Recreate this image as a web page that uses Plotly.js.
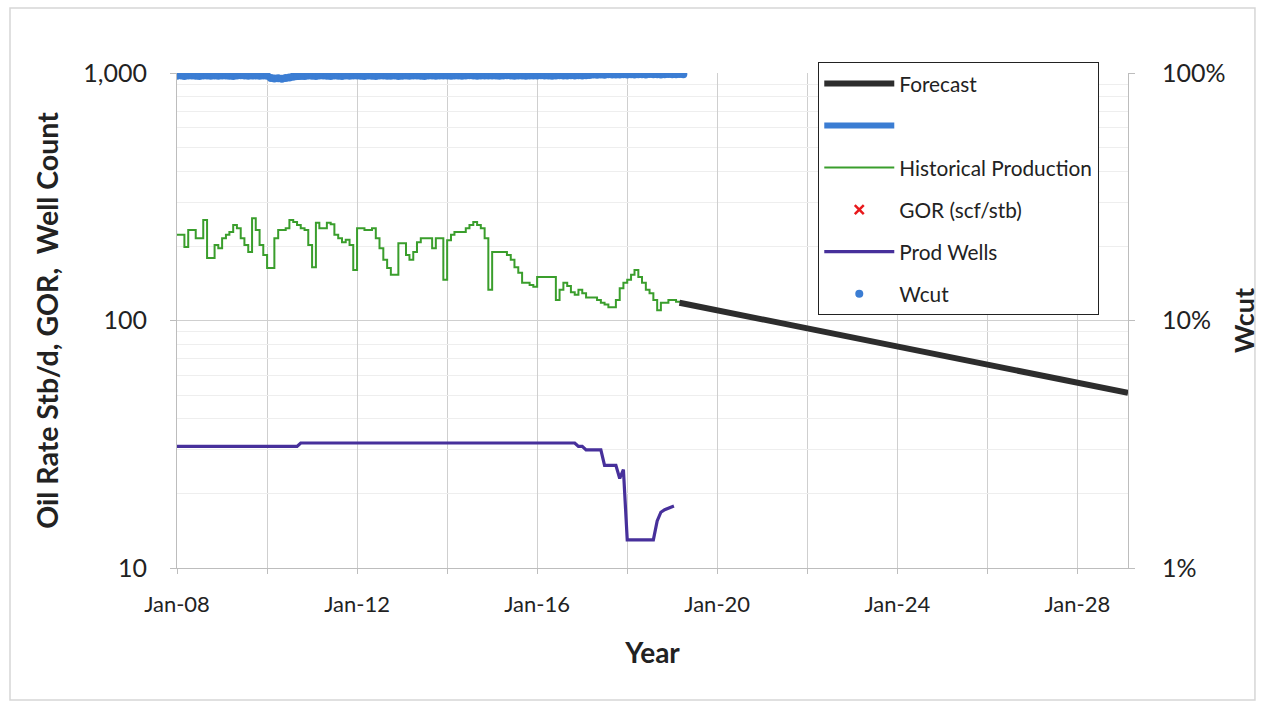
<!DOCTYPE html>
<html>
<head>
<meta charset="utf-8">
<script src="https://cdn.plot.ly/plotly-3.0.1.min.js"></script>
<style>
  html, body { margin: 0; padding: 0; background: #ffffff; }
  #chart { width: 1263px; height: 702px; }
</style>
</head>
<body>
<div id="chart"></div>
<script>
// ---------------- DATA ----------------
const histYears = [2008, 2009, 2010, 2011, 2012, 2013, 2014, 2015, 2016, 2017, 2018, 2019];
// Historical oil rate (stb/d), monthly, one array per year
const oilRateByYear = [
  [222, 222, 198, 232, 232, 215, 215, 255, 179, 179, 202, 196],
  [215, 222, 228, 243, 236, 215, 202, 189, 259, 232, 202, 184],
  [163, 163, 215, 232, 232, 236, 255, 250, 243, 236, 232, 202],
  [164, 248, 236, 236, 248, 245, 222, 215, 207, 212, 202, 160],
  [236, 236, 232, 232, 236, 215, 196, 176, 163, 153, 153, 205],
  [205, 184, 176, 189, 207, 215, 215, 215, 196, 215, 215, 146],
  [211, 222, 228, 228, 228, 236, 243, 250, 243, 236, 215, 133],
  [189, 189, 189, 189, 184, 176, 164, 156, 142, 142, 139, 137],
  [150, 150, 150, 150, 150, 121, 133, 142, 138, 130, 127, 133],
  [129, 124, 124, 124, 121, 118, 116, 113, 113, 121, 135, 142],
  [146, 153, 160, 150, 142, 133, 129, 121, 110, 118, 118, 121],
  [121, 119, 118]
];
// Water cut (fraction), monthly, one array per year
const wcutByYear = [
  [0.975, 0.978, 0.972, 0.976, 0.978, 0.975, 0.972, 0.976, 0.978, 0.975, 0.977, 0.974],
  [0.976, 0.978, 0.975, 0.973, 0.977, 0.979, 0.976, 0.974, 0.977, 0.978, 0.975, 0.976],
  [0.974, 0.955, 0.950, 0.952, 0.948, 0.955, 0.958, 0.968, 0.972, 0.975, 0.973, 0.976],
  [0.975, 0.972, 0.976, 0.978, 0.974, 0.973, 0.977, 0.975, 0.972, 0.976, 0.974, 0.977],
  [0.976, 0.974, 0.972, 0.977, 0.975, 0.973, 0.976, 0.978, 0.974, 0.975, 0.977, 0.973],
  [0.975, 0.977, 0.974, 0.976, 0.978, 0.975, 0.973, 0.977, 0.976, 0.974, 0.978, 0.976],
  [0.977, 0.975, 0.978, 0.976, 0.974, 0.977, 0.979, 0.976, 0.975, 0.978, 0.976, 0.977],
  [0.976, 0.978, 0.975, 0.977, 0.979, 0.976, 0.974, 0.978, 0.977, 0.975, 0.978, 0.976],
  [0.977, 0.979, 0.976, 0.978, 0.975, 0.977, 0.979, 0.976, 0.978, 0.980, 0.977, 0.979],
  [0.978, 0.980, 0.982, 0.985, 0.983, 0.986, 0.984, 0.988, 0.985, 0.987, 0.986, 0.988],
  [0.987, 0.988, 0.986, 0.989, 0.988, 0.987, 0.990, 0.988, 0.989, 0.987, 0.988, 0.990],
  [0.989, 0.988, 0.990, 0.989]
];
// Producing well count
const wellDates = ['2008-01-01', '2010-09-01', '2010-10-01', '2016-11-01', '2016-12-01', '2017-01-01',
  '2017-02-01', '2017-06-01', '2017-07-01', '2017-10-01', '2017-11-01', '2017-12-01', '2018-01-01',
  '2018-08-01', '2018-09-01', '2018-10-01', '2018-11-01', '2019-01-15'];
const wellCount = [31, 31, 32, 32, 31, 31, 30, 30, 26, 26, 23, 25, 13, 13, 15.5, 16.8, 17.2, 17.8];
// Forecast oil rate (stb/d)
const forecastDates = ['2019-03-01', '2020-01-01', '2021-01-01', '2022-01-01', '2023-01-01', '2024-01-01',
  '2025-01-01', '2026-01-01', '2027-01-01', '2028-01-01', '2029-01-01', '2029-02-15'];
const forecastRate = [118, 110, 101, 93, 85, 78.5, 72, 66, 61, 56, 51.6, 51];
// GOR (scf/stb): no points shown on the chart
const gorDates = [null];
const gorValues = [null];

// Axis tick labels
const yTickVals = [10, 100, 1000];
const yTickText = ['10', '100', '1,000'];
const y2TickVals = [0.01, 0.1, 1];
const y2TickText = ['1%', '10%', '100%'];
const yMinorVals = [20, 30, 40, 50, 60, 70, 80, 90, 200, 300, 400, 500, 600, 700, 800, 900];

// ------------- build monthly series -------------
function monthDates(byYear) {
  const d = [];
  byYear.forEach((arr, i) => {
    arr.forEach((_, m) => {
      d.push(histYears[i] + '-' + String(m + 1).padStart(2, '0') + '-01');
    });
  });
  return d;
}
const oilDates = monthDates(oilRateByYear);
const oilRate = oilRateByYear.flat();
const wcutDates = monthDates(wcutByYear);
const wcut = wcutByYear.flat();

const FONT = 'Lato, "Liberation Sans", Arial, sans-serif';

const traces = [
  { x: oilDates, y: oilRate, name: 'Historical Production', type: 'scatter', mode: 'lines',
    line: { color: '#3a9e2c', width: 2, shape: 'hv' }, legendgroup: 'g3', legendrank: 3 },
  { x: wellDates, y: wellCount, name: 'Prod Wells', type: 'scatter', mode: 'lines',
    line: { color: '#47309b', width: 3.2 }, legendgroup: 'g5', legendrank: 5 },
  { x: forecastDates, y: forecastRate, name: 'Forecast', type: 'scatter', mode: 'lines',
    line: { color: '#2d2d2d', width: 6 }, legendgroup: 'g1', legendrank: 1 },
  { x: gorDates, y: gorValues, name: 'GOR (scf/stb)', type: 'scatter', mode: 'markers',
    marker: { symbol: 'x-thin', color: '#e8191c', size: 9, line: { color: '#e8191c', width: 2.5 } },
    legendgroup: 'g4', legendrank: 4 },
  { x: wcutDates, y: wcut, name: ' ', type: 'scatter', mode: 'lines', yaxis: 'y2',
    line: { color: '#3b7dd3', width: 6 }, legendgroup: 'g2', legendrank: 2 },
  { x: wcutDates, y: wcut, name: 'Wcut', type: 'scatter', mode: 'markers', yaxis: 'y2',
    marker: { color: '#3b7dd3', size: 8 }, legendgroup: 'g6', legendrank: 6 }
];

const layout = {
  width: 1263, height: 702,
  margin: { l: 177, r: 135, t: 73, b: 134 },
  paper_bgcolor: '#ffffff', plot_bgcolor: '#ffffff',
  font: { family: FONT, color: '#222222' },
  showlegend: true,
  legend: {
    x: 0.674, y: 1.022, xanchor: 'left', yanchor: 'top',
    bgcolor: '#ffffff', bordercolor: '#222222', borderwidth: 1.3,
    font: { family: FONT, size: 20.8, color: '#222222' },
    traceorder: 'grouped', tracegroupgap: 12, itemwidth: 70
  },
  xaxis: {
    type: 'date', range: ['2008-01-01', '2029-02-15'],
    tick0: '2008-01-01', dtick: 'M48', tickformat: '%b-%y',
    showgrid: true, gridcolor: '#cfcfcf', gridwidth: 1,
    minor: { dtick: 'M24', tick0: '2008-01-01', showgrid: true, gridcolor: '#cfcfcf', ticks: 'outside', ticklen: 5, tickcolor: '#bdbdbd' },
    ticks: 'outside', ticklen: 5, tickcolor: '#bdbdbd',
    showline: true, linecolor: '#bdbdbd', linewidth: 1, zeroline: false,
    tickfont: { family: FONT, size: 22, color: '#222222' },
    ticklabelstandoff: 12,
    title: { text: 'Year', font: { family: FONT, size: 28, weight: 'bold', color: '#222222' }, standoff: 26 }
  },
  yaxis: {
    type: 'log', range: [1, 3],
    tickvals: yTickVals, ticktext: yTickText,
    showgrid: true, gridcolor: '#cfcfcf', gridwidth: 1,
    minor: { tickvals: yMinorVals, showgrid: true, gridcolor: '#eeeeee', ticks: '' },
    ticks: 'outside', ticklen: 6, tickcolor: '#bdbdbd',
    showline: true, linecolor: '#bdbdbd', linewidth: 1, zeroline: false,
    tickfont: { family: FONT, size: 25, color: '#222222' },
    ticklabelstandoff: 18,
    title: { text: 'Oil Rate Stb/d, GOR,  Well Count', font: { family: FONT, size: 28.5, weight: 'bold', color: '#222222' }, standoff: 16 }
  },
  yaxis2: {
    type: 'log', range: [-2, 0], overlaying: 'y', side: 'right',
    tickvals: y2TickVals, ticktext: y2TickText,
    showgrid: false, zeroline: false,
    ticks: 'outside', ticklen: 6, tickcolor: '#bdbdbd',
    showline: true, linecolor: '#bdbdbd', linewidth: 1,
    tickfont: { family: FONT, size: 25, color: '#222222' },
    ticklabelstandoff: 22,
    title: { text: 'Wcut', font: { family: FONT, size: 27, weight: 'bold', color: '#222222' }, standoff: 10 }
  },
  shapes: [
    { type: 'rect', xref: 'paper', yref: 'paper', x0: -0.1756, x1: 1.1335, y0: -0.2667, y1: 1.1313,
      line: { color: '#d6d6d6', width: 1.5 }, fillcolor: 'rgba(0,0,0,0)', layer: 'below' }
  ]
};

Plotly.newPlot('chart', traces, layout, { displayModeBar: false, staticPlot: true });
</script>
</body>
</html>
